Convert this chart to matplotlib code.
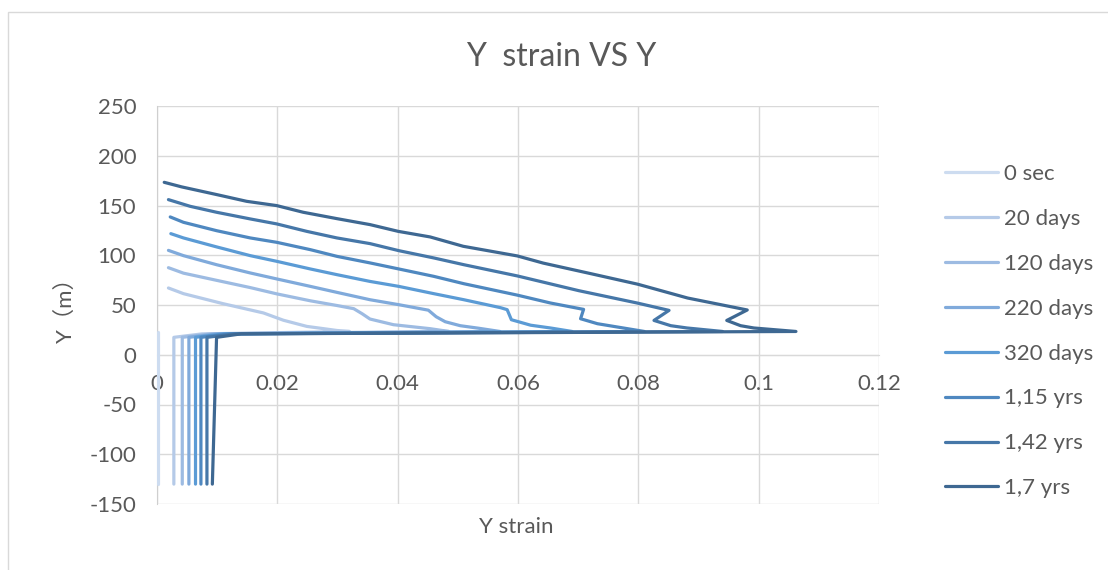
import matplotlib
matplotlib.use('Agg')
import matplotlib.pyplot as plt
from matplotlib.patches import Rectangle

plt.rcParams['font.family'] = ['Lato', 'Noto Sans CJK SC', 'DejaVu Sans']

# Y strain profiles along the section, listed from the bottom node upwards
labels = ['0 sec', '20 days', '120 days', '220 days', '320 days',
          '1,15 yrs', '1,42 yrs', '1,7 yrs']
colors = ['#cddcf0', '#b5cae8', '#9dbbe2', '#80aadb', '#5b9bd5',
          '#4f88c0', '#4677a8', '#3e6892']

x_0sec = [0.0002, 0.0002]
y_0sec = [-130, 23.0]

x_20d = [0.0028, 0.0028, 0.0075, 0.0320, 0.0299, 0.0249, 0.0210, 0.0177,
         0.0110, 0.0044, 0.0019]
y_20d = [-130, 17.5, 21.0, 23.4, 24.4, 28.5, 34.7, 42.0, 51.3, 61.4, 67.1]

x_120d = [0.0042, 0.0042, 0.0090, 0.0485, 0.0454, 0.0393, 0.0354, 0.0341,
          0.0327, 0.0299, 0.0255, 0.0199, 0.0155, 0.0099, 0.0044, 0.0019]
y_120d = [-130, 17.5, 21.0, 23.4, 26.2, 30.2, 35.9, 41.2, 46.3, 49.5, 54.2,
          61.2, 67.5, 74.8, 82.0, 87.5]

x_220d = [0.0053, 0.0053, 0.0100, 0.0570, 0.0534, 0.0504, 0.0479, 0.0464,
          0.0451, 0.0402, 0.0354, 0.0299, 0.0255, 0.0199, 0.0155, 0.0099,
          0.0044, 0.0019]
y_220d = [-130, 17.5, 21.0, 23.4, 26.7, 29.2, 33.2, 38.2, 44.8, 50.3, 55.3,
          62.7, 68.7, 76.2, 82.2, 90.5, 99.6, 104.9]

x_320d = [0.0064, 0.0064, 0.0110, 0.0690, 0.0654, 0.0621, 0.0589, 0.0582,
          0.0571, 0.0510, 0.0460, 0.0402, 0.0354, 0.0299, 0.0255, 0.0199,
          0.0155, 0.0099, 0.0044, 0.0023]
y_320d = [-130, 17.5, 21.0, 23.4, 26.9, 29.7, 35.2, 45.3, 47.3, 55.3, 61.4,
          68.7, 73.7, 80.5, 86.2, 93.9, 99.6, 108.4, 117.4, 121.7]

x_115y = [0.0073, 0.0073, 0.0120, 0.0810, 0.0765, 0.0732, 0.0704, 0.0709,
          0.0654, 0.0599, 0.0510, 0.0460, 0.0402, 0.0354, 0.0299, 0.0255,
          0.0199, 0.0155, 0.0099, 0.0044, 0.0022]
y_115y = [-130, 17.5, 21.0, 23.4, 27.9, 31.2, 36.2, 45.6, 52.0, 59.9, 71.4,
          78.8, 86.2, 92.3, 98.9, 105.6, 113.0, 117.4, 124.7, 133.1, 138.5]

x_142y = [0.0083, 0.0083, 0.0130, 0.0940, 0.0881, 0.0854, 0.0826, 0.0851,
          0.0798, 0.0701, 0.0599, 0.0510, 0.0460, 0.0402, 0.0354, 0.0299,
          0.0249, 0.0199, 0.0155, 0.0099, 0.0055, 0.0019]
y_142y = [-130, 17.5, 21.0, 23.4, 26.9, 29.2, 34.5, 44.6, 52.0, 64.4, 79.2,
          90.5, 97.3, 104.6, 111.7, 117.4, 124.0, 131.5, 136.5, 143.2, 149.2,
          155.9]

x_17y = [0.0092, 0.0099, 0.0140, 0.1062, 0.0992, 0.0970, 0.0947, 0.0981,
         0.0882, 0.0799, 0.0721, 0.0642, 0.0599, 0.0509, 0.0454, 0.0401,
         0.0354, 0.0299, 0.0243, 0.0199, 0.0149, 0.0099, 0.0041, 0.0012]
y_17y = [-130, 17.5, 21.0, 23.4, 26.9, 29.2, 34.5, 45.0, 57.0, 70.9, 81.5,
         92.1, 99.3, 109.0, 118.4, 124.0, 130.8, 136.8, 143.2, 149.9, 154.2,
         161.0, 168.7, 173.3]

xs = [x_0sec, x_20d, x_120d, x_220d, x_320d, x_115y, x_142y, x_17y]
ys = [y_0sec, y_20d, y_120d, y_220d, y_320d, y_115y, y_142y, y_17y]

x_ticks = [0, 0.02, 0.04, 0.06, 0.08, 0.1, 0.12]
x_ticklabels = ['0', '0.02', '0.04', '0.06', '0.08', '0.1', '0.12']
y_ticks = [-150, -100, -50, 0, 50, 100, 150, 200, 250]
y_ticklabels = ['-150', '-100', '-50', '0', '50', '100', '150', '200', '250']

W, H = 1108, 570
txt = '#595959'
grid = '#d9d9d9'

fig = plt.figure(figsize=(W / 100, H / 100), dpi=100)
fig.patch.set_facecolor('white')

# chart area border
fig.patches.append(Rectangle((8 / W, -0.1), 1.2, 1 - 12 / H + 0.1,
                             transform=fig.transFigure, fill=False,
                             edgecolor=grid, linewidth=1.0))

ax = fig.add_axes([157 / W, 1 - 504 / H, (879 - 157) / W, (504 - 106) / H])

for x, y, c, lab in zip(xs, ys, colors, labels):
    ax.plot(x, y, color=c, linewidth=2.3, label=lab,
            solid_joinstyle='round', solid_capstyle='round', zorder=3)

ax.set_xlim(0, 0.12)
ax.set_ylim(-150, 250)
ax.set_xticks(x_ticks)
ax.set_xticklabels(x_ticklabels)
ax.set_yticks(y_ticks)
ax.set_yticklabels(y_ticklabels)
ax.grid(True, color=grid, linewidth=1.0, zorder=0)
ax.set_axisbelow(True)

ax.spines['top'].set_visible(False)
ax.spines['right'].set_visible(False)
ax.spines['bottom'].set_position(('data', 0))
ax.spines['bottom'].set_color(grid)
ax.spines['left'].set_color('#cfcfcf')
ax.tick_params(axis='both', length=0, labelsize=16, labelcolor=txt)
ax.tick_params(axis='x', pad=14)
ax.tick_params(axis='y', pad=15)

fig.text(561 / W, 1 - 57 / H, 'Y  strain VS Y', fontsize=23, color=txt,
         ha='center', va='center')
fig.text(516 / W, 1 - 527 / H, 'Y strain', fontsize=16, color=txt,
         ha='center', va='center')
fig.text(65 / W, 1 - 305 / H, 'Y（m）', fontsize=16, color=txt,
         ha='center', va='center', rotation=90)

leg = ax.legend(loc='upper left', bbox_to_anchor=(945 / W, 1 - 164 / H),
                bbox_transform=fig.transFigure, frameon=False, fontsize=16,
                handlelength=2.4, handletextpad=0.25, labelspacing=1.12,
                borderpad=0, borderaxespad=0)
for t in leg.get_texts():
    t.set_color(txt)

fig.savefig('out.png', dpi=100)
